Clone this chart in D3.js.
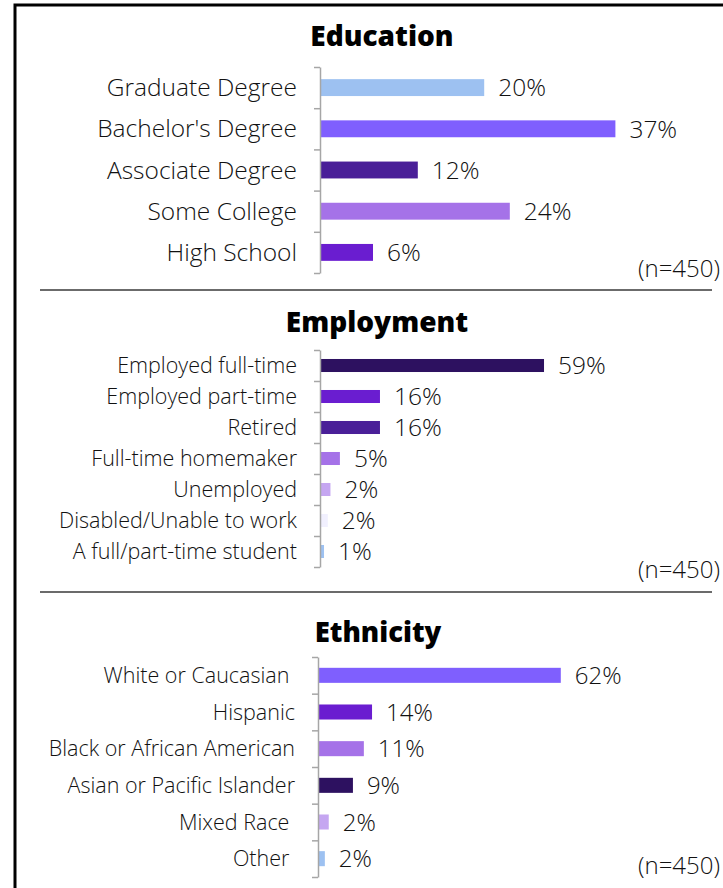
<!DOCTYPE html>
<html>
<head>
<meta charset="utf-8">
<script src="https://cdn.jsdelivr.net/npm/d3@7"></script>
<style>
  body { margin: 0; background: #fff; }
  svg { display: block; }
  text { font-family: "Open Sans", "Noto Sans", sans-serif; font-weight: 300; fill: #111; }
  .title { font-weight: 800; fill: #000; }
</style>
</head>
<body>
<svg id="chart" width="723" height="888"></svg>
<script>
// Education
const eduCategories = ['Graduate Degree', "Bachelor's Degree", 'Associate Degree', 'Some College', 'High School'];
const eduValues = [20.4, 36.8, 12.1, 23.6, 6.5];
const eduLabels = ['20%', '37%', '12%', '24%', '6%'];
const eduColors = ['#9dc1f1', '#7f5ffe', '#4a1f98', '#a572e8', '#6a1dd0'];

// Employment
const empCategories = ['Employed full-time', 'Employed part-time', 'Retired', 'Full-time homemaker', 'Unemployed', 'Disabled/Unable to work', 'A full/part-time student'];
const empValues = [59.0, 15.6, 15.6, 5.0, 2.5, 1.8, 0.8];
const empLabels = ['59%', '16%', '16%', '5%', '2%', '2%', '1%'];
const empColors = ['#2d1160', '#6a1dd0', '#4a1f98', '#a572e8', '#c5a6f1', '#f1f0fe', '#9dc1f1'];

// Ethnicity
const ethCategories = ['White or Caucasian ', 'Hispanic', 'Black or African American', 'Asian or Pacific Islander', 'Mixed Race ', 'Other '];
const ethValues = [62.0, 13.6, 11.5, 8.7, 2.5, 1.5];
const ethLabels = ['62%', '14%', '11%', '9%', '2%', '2%'];
const ethColors = ['#7f5ffe', '#6a1dd0', '#a572e8', '#2d1160', '#c5a6f1', '#9dc1f1'];

const sampleNote = '(n=450)';

let svg = d3.select('#chart');

// frame
svg.append('path')
  .attr('d', 'M15,888V5H723')
  .style('fill', 'none')
  .style('stroke', '#000')
  .style('stroke-width', 3);

[290, 592].forEach((y) => {
  svg.append('line')
    .attr('x1', 40).attr('x2', 712)
    .attr('y1', y).attr('y2', y)
    .style('stroke', '#3a3a3a')
    .style('stroke-width', 1.5);
});

let panels = [
  {
    title: 'Education', titleX: 382, titleY: 46, titleSize: 28,
    categories: eduCategories, values: eduValues, labels: eduLabels, colors: eduColors,
    axisX: 320, top: 67, bottom: 273, pxPerPct: 8.0, padding: 0.59,
    catSize: 24.5, valSize: 24.5, noteY: 277
  },
  {
    title: 'Employment', titleX: 377, titleY: 332, titleSize: 28,
    categories: empCategories, values: empValues, labels: empLabels, colors: empColors,
    axisX: 320, top: 350, bottom: 567, pxPerPct: 3.78, padding: 0.58,
    catSize: 21.5, valSize: 24.5, noteY: 578
  },
  {
    title: 'Ethnicity', titleX: 378, titleY: 642, titleSize: 27.5,
    categories: ethCategories, values: ethValues, labels: ethLabels, colors: ethColors,
    axisX: 318, top: 657, bottom: 877, pxPerPct: 3.9, padding: 0.59,
    catSize: 21.5, valSize: 24, noteY: 874
  }
];

panels.forEach((p) => {
  let g = svg.append('g');

  let y = d3.scaleBand()
    .domain(p.categories)
    .range([p.top, p.bottom])
    .paddingInner(p.padding)
    .paddingOuter(p.padding / 2);

  let x = d3.scaleLinear()
    .domain([0, 100])
    .range([p.axisX, p.axisX + 100 * p.pxPerPct]);

  let rows = p.categories.map((c, i) => ({ cat: c, value: p.values[i], label: p.labels[i], color: p.colors[i] }));

  g.append('text')
    .attr('class', 'title')
    .attr('x', p.titleX)
    .attr('y', p.titleY)
    .attr('text-anchor', 'middle')
    .style('font-size', p.titleSize + 'px')
    .text(p.title);

  g.selectAll('rect.bar')
    .data(rows)
    .enter()
    .append('rect')
    .attr('class', 'bar')
    .attr('x', x(0) + 1)
    .attr('y', (d) => y(d.cat))
    .attr('width', (d) => x(d.value) - x(0))
    .attr('height', y.bandwidth())
    .style('fill', (d) => d.color);

  // bracket axis: ticks sit on the category boundaries
  let boundary = d3.scaleLinear()
    .domain([0, p.categories.length])
    .range([p.top, p.bottom]);

  let axis = g.append('g')
    .attr('transform', 'translate(' + p.axisX + ',0)')
    .call(d3.axisLeft(boundary)
      .tickValues(d3.range(p.categories.length + 1))
      .tickSize(6)
      .tickSizeOuter(0)
      .tickFormat(''));
  axis.selectAll('path, line')
    .style('stroke', '#a6a6a6')
    .style('stroke-width', 1.5);

  g.selectAll('text.cat')
    .data(rows)
    .enter()
    .append('text')
    .attr('class', 'cat')
    .attr('x', p.axisX - 23)
    .attr('y', (d) => y(d.cat) + y.bandwidth() / 2)
    .attr('dy', '0.35em')
    .attr('text-anchor', 'end')
    .style('white-space', 'pre')
    .style('font-size', p.catSize + 'px')
    .text((d) => d.cat);

  g.selectAll('text.val')
    .data(rows)
    .enter()
    .append('text')
    .attr('class', 'val')
    .attr('x', (d) => x(d.value) + 15)
    .attr('y', (d) => y(d.cat) + y.bandwidth() / 2)
    .attr('dy', '0.36em')
    .style('font-size', p.valSize + 'px')
    .text((d) => d.label);

  g.append('text')
    .attr('x', 720)
    .attr('y', p.noteY)
    .attr('text-anchor', 'end')
    .style('font-size', '24px')
    .text(sampleNote);
});
</script>
</body>
</html>
